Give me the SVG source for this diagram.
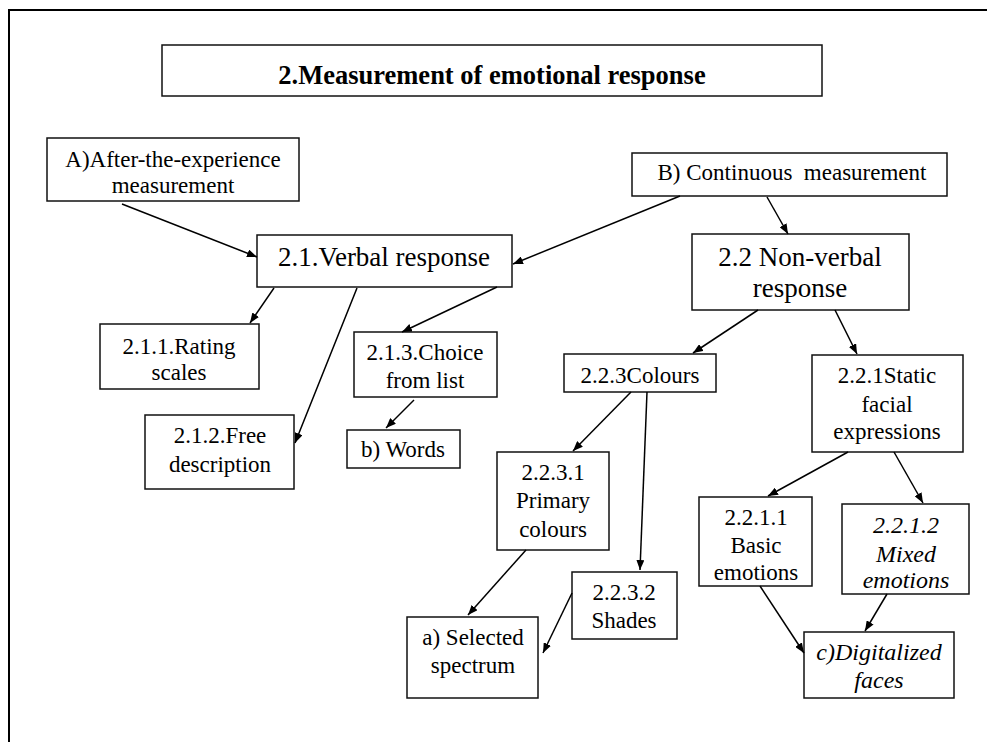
<svg xmlns="http://www.w3.org/2000/svg" width="987" height="742" viewBox="0 0 987 742" font-family="Liberation Serif">
  <style>
    svg text { font-family: 'Liberation Serif', serif !important; }
    .box { fill: #fff; stroke: #111; stroke-width: 1.5; }
    .lbl { font-size: 23px; fill: #000; text-anchor: middle; }
    .big { font-size: 27px; }
    .ital { font-style: italic; font-size: 24px; }
    .head { font-weight: bold; font-size: 26.5px; }
    .edge { stroke: #000; stroke-width: 1.5; fill: none; marker-end: url(#ah); }
  </style>
  <defs>
    <marker id="ah" viewBox="0 0 10 8" refX="10" refY="4" markerWidth="10" markerHeight="8" orient="auto" markerUnits="userSpaceOnUse">
      <path d="M0,0 L10,4 L0,8 z" fill="#000"/>
    </marker>
  </defs>
  <rect width="987" height="742" fill="#fff"/>

  <!-- page frame -->
  <path d="M9,742 V10 H987" fill="none" stroke="#000" stroke-width="2"/>

  <g id="title">
    <rect class="box" x="162" y="45" width="660" height="51"/>
    <text class="lbl head" x="492" y="84">2.Measurement of emotional response</text>
  </g>

  <g id="after-experience">
    <rect class="box" x="47" y="138" width="252" height="63"/>
    <text class="lbl" x="173" y="167">A)After-the-experience</text>
    <text class="lbl" x="173" y="193">measurement</text>
  </g>

  <g id="continuous">
    <rect class="box" x="632" y="153" width="315" height="43"/>
    <text class="lbl" x="792" y="180" xml:space="preserve">B) Continuous  measurement</text>
  </g>

  <g id="verbal">
    <rect class="box" x="257" y="235" width="255" height="52"/>
    <text class="lbl big" x="384" y="266">2.1.Verbal response</text>
  </g>

  <g id="non-verbal">
    <rect class="box" x="692" y="234" width="217" height="76"/>
    <text class="lbl big" x="800" y="266">2.2 Non-verbal</text>
    <text class="lbl big" x="800" y="297">response</text>
  </g>

  <g id="rating">
    <rect class="box" x="100" y="324" width="159" height="65"/>
    <text class="lbl" x="179" y="354">2.1.1.Rating</text>
    <text class="lbl" x="179" y="380">scales</text>
  </g>

  <g id="free">
    <rect class="box" x="145" y="415" width="149" height="74"/>
    <text class="lbl" x="220" y="443">2.1.2.Free</text>
    <text class="lbl" x="220" y="472">description</text>
  </g>

  <g id="choice">
    <rect class="box" x="354" y="332" width="143" height="65"/>
    <text class="lbl" x="425" y="360">2.1.3.Choice</text>
    <text class="lbl" x="425" y="388">from list</text>
  </g>

  <g id="words">
    <rect class="box" x="347" y="430" width="113" height="38"/>
    <text class="lbl" x="403" y="457">b) Words</text>
  </g>

  <g id="colours">
    <rect class="box" x="564" y="354" width="152" height="38"/>
    <text class="lbl" x="640" y="383">2.2.3Colours</text>
  </g>

  <g id="primary">
    <rect class="box" x="497" y="452" width="112" height="98"/>
    <text class="lbl" x="553" y="480">2.2.3.1</text>
    <text class="lbl" x="553" y="508">Primary</text>
    <text class="lbl" x="553" y="537">colours</text>
  </g>

  <g id="shades">
    <rect class="box" x="572" y="572" width="105" height="67"/>
    <text class="lbl" x="624" y="600">2.2.3.2</text>
    <text class="lbl" x="624" y="628">Shades</text>
  </g>

  <g id="selected">
    <rect class="box" x="407" y="617" width="131" height="81"/>
    <text class="lbl" x="473" y="645">a) Selected</text>
    <text class="lbl" x="473" y="673">spectrum</text>
  </g>

  <g id="static">
    <rect class="box" x="812" y="355" width="151" height="97"/>
    <text class="lbl" x="887" y="383">2.2.1Static</text>
    <text class="lbl" x="887" y="412">facial</text>
    <text class="lbl" x="887" y="439">expressions</text>
  </g>

  <g id="basic">
    <rect class="box" x="699" y="497" width="113" height="89"/>
    <text class="lbl" x="756" y="525">2.2.1.1</text>
    <text class="lbl" x="756" y="553">Basic</text>
    <text class="lbl" x="756" y="580">emotions</text>
  </g>

  <g id="mixed">
    <rect class="box" x="842" y="504" width="127" height="90"/>
    <text class="lbl ital" x="906" y="533">2.2.1.2</text>
    <text class="lbl ital" x="906" y="562">Mixed</text>
    <text class="lbl ital" x="906" y="588">emotions</text>
  </g>

  <g id="digitalized">
    <rect class="box" x="804" y="632" width="150" height="66"/>
    <text class="lbl ital" x="879" y="660">c)Digitalized</text>
    <text class="lbl ital" x="879" y="688">faces</text>
  </g>

  <g id="connectors">
    <line class="edge" x1="122" y1="204" x2="257" y2="257"/>
    <line class="edge" x1="680" y1="196" x2="513" y2="264"/>
    <line class="edge" x1="767" y1="197" x2="788" y2="234"/>
    <line class="edge" x1="274" y1="288" x2="250" y2="323"/>
    <line class="edge" x1="357" y1="288" x2="295" y2="443"/>
    <line class="edge" x1="497" y1="287" x2="402" y2="332"/>
    <line class="edge" x1="414" y1="400" x2="386" y2="428"/>
    <line class="edge" x1="758" y1="310" x2="693" y2="353"/>
    <line class="edge" x1="835" y1="310" x2="857" y2="354"/>
    <line class="edge" x1="631" y1="392" x2="573" y2="451"/>
    <line class="edge" x1="647" y1="392" x2="640" y2="570"/>
    <line class="edge" x1="526" y1="550" x2="468" y2="615"/>
    <line class="edge" x1="572" y1="593" x2="543" y2="653"/>
    <line class="edge" x1="848" y1="452" x2="768" y2="496"/>
    <line class="edge" x1="894" y1="452" x2="923" y2="503"/>
    <line class="edge" x1="760" y1="586" x2="804" y2="653"/>
    <line class="edge" x1="887" y1="594" x2="865" y2="631"/>
  </g>
</svg>
